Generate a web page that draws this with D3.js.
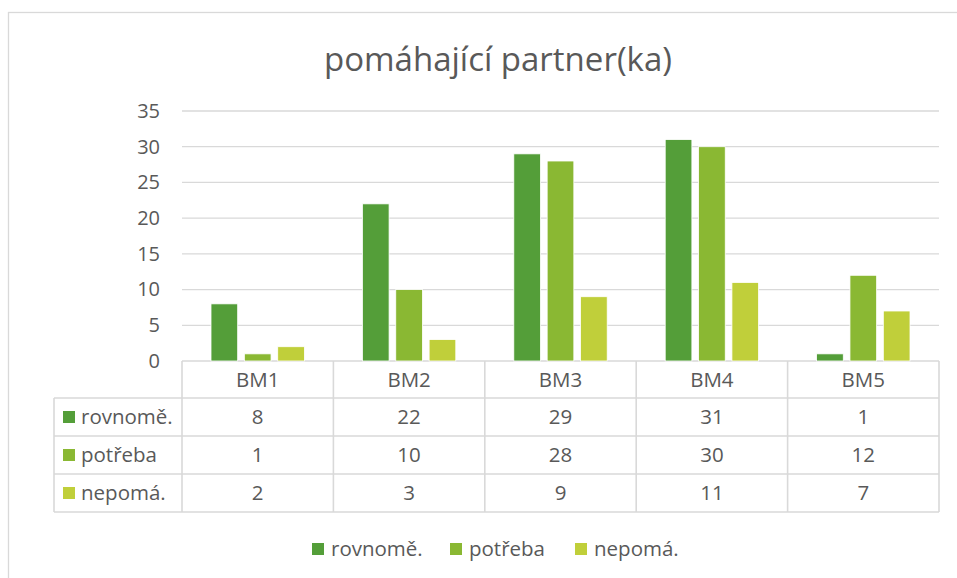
<!DOCTYPE html>
<html>
<head>
<meta charset="utf-8">
<script src="https://cdn.jsdelivr.net/npm/d3@7"></script>
<style>
  body { margin: 0; background: #fff; }
  text { font-family: "Open Sans", sans-serif; fill: #595959; }
</style>
</head>
<body>
<svg id="chart" width="957" height="578"></svg>
<script>
// categories and series
const categories = ["BM1", "BM2", "BM3", "BM4", "BM5"];
const seriesNames = ["rovnomě.", "potřeba", "nepomá."];
const rovnome = [8, 22, 29, 31, 1];
const potreba = [1, 10, 28, 30, 12];
const nepoma = [2, 3, 9, 11, 7];
const seriesValues = [rovnome, potreba, nepoma];
const colors = ["#549E39", "#8AB833", "#C0CF3A"];
const yTicks = [0, 5, 10, 15, 20, 25, 30, 35];

const svg = d3.select("#chart");
const gridColor = "#D9D9D9";
const fs = "20.5px";

// chart frame
svg.append("rect")
    .attr("x", 8.5).attr("y", 12.5)
    .attr("width", 1000).attr("height", 700)
    .attr("fill", "none")
    .attr("stroke", gridColor)
    .attr("stroke-width", 1.3);

// title
svg.append("text")
    .attr("x", 498)
    .attr("y", 71)
    .attr("text-anchor", "middle")
    .style("font-size", "33px")
    .text("pomáhající partner(ka)");

const plotLeft = 182, plotRight = 939, plotTop = 111, plotBottom = 361;

const x0 = d3.scaleBand().domain(categories).range([plotLeft, plotRight]);
const bw = x0.bandwidth();
const x1 = d3.scaleBand().domain(seriesNames).range([29, bw - 29]).paddingInner(0.2);
const y = d3.scaleLinear().domain([0, 35]).range([plotBottom, plotTop]);

// gridlines
svg.append("g")
    .selectAll("line")
    .data(yTicks)
    .join("line")
    .attr("x1", plotLeft).attr("x2", plotRight)
    .attr("y1", d => y(d)).attr("y2", d => y(d))
    .attr("stroke", gridColor)
    .attr("stroke-width", 1.3);

// y axis labels
const yAxis = svg.append("g")
    .attr("transform", `translate(${plotLeft - 22},0)`)
    .call(d3.axisLeft(y).tickValues(yTicks).tickSize(0).tickPadding(0));
yAxis.select(".domain").remove();
yAxis.selectAll("text")
    .style("font-size", "20px")
    .style("font-family", "'Open Sans', sans-serif")
    .attr("fill", "#595959");

// bars
const rows = seriesNames.map((name, i) => ({ name, color: colors[i], values: seriesValues[i] }));

rows.forEach(s => {
    svg.append("g")
        .selectAll("rect")
        .data(s.values)
        .join("rect")
        .attr("x", (d, j) => x0(categories[j]) + x1(s.name))
        .attr("width", x1.bandwidth())
        .attr("y", d => y(d))
        .attr("height", d => y(0) - y(d))
        .attr("fill", s.color)
        .attr("stroke", "#fff")
        .attr("stroke-width", 0.8);
});

// data table
const rowH = 38;
const headerBottom = plotBottom + 37;
const tableLeft = 54;
const table = svg.append("g");

// header cells
table.selectAll("text.head")
    .data(categories)
    .join("text")
    .attr("class", "head")
    .attr("x", d => x0(d) + bw / 2)
    .attr("y", plotBottom + 19)
    .attr("dy", "0.35em")
    .attr("text-anchor", "middle")
    .style("font-size", fs)
    .text(d => d);

rows.forEach((s, i) => {
    const cy = headerBottom + rowH * i + rowH / 2;
    table.append("rect")
        .attr("x", 63).attr("y", cy - 6)
        .attr("width", 12).attr("height", 12)
        .attr("fill", s.color);
    table.append("text")
        .attr("x", 81)
        .attr("y", cy)
        .attr("dy", "0.35em")
        .style("font-size", fs)
        .text(s.name);
    table.append("g")
        .selectAll("text")
        .data(s.values)
        .join("text")
        .attr("x", (d, j) => x0(categories[j]) + bw / 2)
        .attr("y", cy)
        .attr("dy", "0.35em")
        .attr("text-anchor", "middle")
        .style("font-size", fs)
        .text(d => d);
});

// table lines
const tableBottom = headerBottom + rowH * rows.length;
const lines = table.append("g")
    .attr("stroke", gridColor)
    .attr("stroke-width", 1.6)
    .attr("fill", "none");

// horizontal lines
[headerBottom, ...rows.map((_, i) => headerBottom + rowH * (i + 1))].forEach(yy => {
    lines.append("line").attr("x1", tableLeft).attr("x2", plotRight).attr("y1", yy).attr("y2", yy);
});
// vertical lines
[...categories.map(c => x0(c)), plotRight].forEach(xx => {
    lines.append("line").attr("x1", xx).attr("x2", xx).attr("y1", plotBottom).attr("y2", tableBottom);
});
lines.append("line").attr("x1", tableLeft).attr("x2", tableLeft).attr("y1", headerBottom).attr("y2", tableBottom);

// legend
const legendX = [312, 450, 575];
const legend = svg.append("g");
rows.forEach((s, i) => {
    legend.append("rect")
        .attr("x", legendX[i]).attr("y", 543)
        .attr("width", 12).attr("height", 12)
        .attr("fill", s.color);
    legend.append("text")
        .attr("x", legendX[i] + 19)
        .attr("y", 549)
        .attr("dy", "0.35em")
        .style("font-size", fs)
        .text(s.name);
});
</script>
</body>
</html>
